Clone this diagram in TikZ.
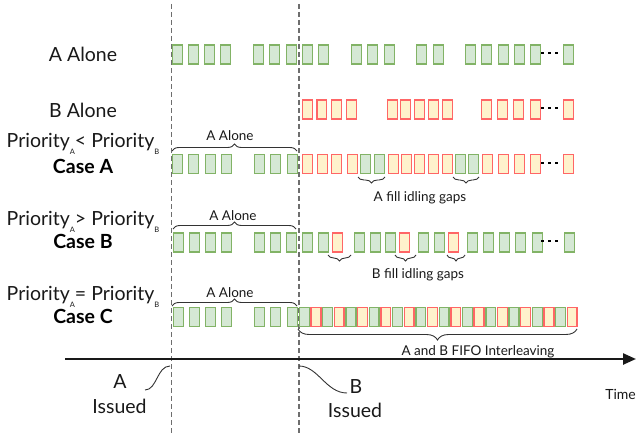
\documentclass[tikz,border=0pt]{standalone}
\usepackage{fontspec}
\setmainfont{Lato}
\usetikzlibrary{decorations.pathreplacing,arrows.meta}
\definecolor{gfill}{HTML}{D5E8D4}
\definecolor{gline}{HTML}{82B366}
\definecolor{rfill}{HTML}{FFF2CC}
\definecolor{rline}{HTML}{FF6666}
\definecolor{dgray}{HTML}{333333}
\definecolor{dashgray}{HTML}{6E6E6E}
\newcommand\mysub[1]{\raisebox{-7pt}{\fontsize{7.5}{8}\selectfont #1}}
\begin{document}
\begin{tikzpicture}[x=1pt,y=-1pt,
  gbox/.style={draw=gline, fill=gfill, line width=1.4pt, minimum width=9.8pt, minimum height=19.3pt, inner sep=0pt, anchor=west},
  rbox/.style={draw=rline, fill=rfill, line width=1.4pt, minimum width=9.8pt, minimum height=19.3pt, inner sep=0pt, anchor=west},
  big/.style={font=\fontsize{19.5}{23}\selectfont, inner sep=0pt, anchor=base, text=black!90},
  bigb/.style={font=\fontsize{19.5}{23}\selectfont\bfseries, inner sep=0pt, anchor=base},
  small/.style={font=\fontsize{13.5}{16}\selectfont, inner sep=0pt, anchor=base, text=black!90},
  brc/.style={draw=dgray, line width=0.9pt, decorate},
  vdash/.style={draw=dashgray, line width=1.3pt, dash pattern=on 5pt off 3pt},
  curve/.style={draw=dgray, line width=0.9pt},
  dotmark/.style={fill=black}
]
\useasboundingbox (0,0) rectangle (637,436);

% dashed time markers
\coordinate (d1t) at (171.5,4);
\coordinate (d1b) at (171.5,436);
\coordinate (d2t) at (299,4);
\coordinate (d2b) at (299,436);
\draw[vdash] (d1t) -- (d1b);
\draw[vdash] (d2t) -- (d2b);

% left labels
\node[big] (lA) at (83,62) {A Alone};
\node[big] (lB) at (83,117) {B Alone};
\node[big] (pA) at (83,147) {Priority\mysub{A}< Priority\mysub{B}};
\node[bigb] (cA) at (83,173) {Case A};
\node[big] (pB) at (83,225) {Priority\mysub{A}> Priority\mysub{B}};
\node[bigb] (cB) at (83,248) {Case B};
\node[big] (pC) at (83,300) {Priority\mysub{A}= Priority\mysub{B}};
\node[bigb] (cC) at (83,323) {Case C};

% Row: A alone
\foreach \x [count=\i] in {171,187,203,219,252,268,285,301,317,350,366,383,415,432,464,480,497,513,529,562}
  \node[gbox] (ra\i) at (\x+0.7,54.5) {};
% Row: B alone
\foreach \x [count=\i] in {301,315.5,330,345,386,399,413,427,441,480,496,512,529,562}
  \node[rbox] (rb\i) at (\x+0.7,109.5) {};
% Case A
\foreach \x [count=\i] in {171,187,204,220,253,269,286,359,373,454,467}
  \node[gbox] (cag\i) at (\x+0.7,164) {};
\foreach \x [count=\i] in {301,316,330,346,387,400,413,427,441,481,497,513,529,562}
  \node[rbox] (car\i) at (\x+0.7,164) {};
% Case B
\foreach \x [count=\i] in {172,188,204,220,253,269,285,301,317,353,369,384,417,433,466,482,498,514,531,563}
  \node[gbox] (cbg\i) at (\x+0.7,242.5) {};
\foreach \x [count=\i] in {331,398,447}
  \node[rbox] (cbr\i) at (\x+0.7,242.5) {};
% Case C
\foreach \x [count=\i] in {172,188,204,220,253,269,286}
  \node[gbox] (ccg\i) at (\x+0.7,317) {};
\foreach \i in {0,2,...,22}
  \node[gbox] (cci\i) at (298.7+11.65*\i,317) {};
\foreach \i in {1,3,...,23}
  \node[rbox] (cci\i) at (298.7+11.65*\i,317) {};

% ellipsis dots
\foreach \y in {53,108,163,241}
  \foreach \x in {542.7,549.7,556.7}
    \fill[dotmark] (\x-1.4,\y-1.4) rectangle (\x+1.4,\y+1.4);

% A Alone braces
\draw[brc, decoration={brace, amplitude=7pt}] (172,151) -- (297,151);
\node[small] (aa1) at (230,140) {A Alone};
\draw[brc, decoration={brace, amplitude=7pt}] (173,229) -- (296,229);
\node[small] (aa2) at (233,220) {A Alone};
\draw[brc, decoration={brace, amplitude=7pt}] (172,306) -- (297,306);
\node[small] (aa3) at (230,297) {A Alone};

% Case A gap braces
\draw[brc, decoration={brace, amplitude=6pt}] (385,177) -- (358,177);
\draw[brc, decoration={brace, amplitude=6pt}] (479,177) -- (453,177);
\node[small] (fa) at (420,201) {A fill idling gaps};

% Case B gap braces
\draw[brc, decoration={brace, amplitude=6pt}] (351,255) -- (328,255);
\draw[brc, decoration={brace, amplitude=6pt}] (416,255) -- (395,255);
\draw[brc, decoration={brace, amplitude=6pt}] (465,255) -- (447,255);
\node[small] (fb) at (418,278) {B fill idling gaps};

% Case C brace
\draw[brc, decoration={brace, amplitude=11pt}] (577,329) -- (298,329);
\node[small] (fc) at (478,355) {A and B FIFO Interleaving};

% time axis
\coordinate (t0) at (65,359);
\coordinate (t1) at (636,359);
\draw[line width=2.4pt, draw=black!90, -{Triangle[length=13pt,width=11pt]}] (t0) -- (t1);
\node[small, anchor=base east, font=\fontsize{14}{16}\selectfont] (time) at (636,399) {Time};

% issued labels
\node[big] (iA) at (120,388) {A};
\node[big] (iAs) at (119.5,413) {Issued};
\node[big] (iB) at (356,393) {B};
\node[big] (iBs) at (355,417) {Issued};
\coordinate (ca0) at (145,390);
\coordinate (ca1) at (170,366);
\coordinate (cb0) at (299,366);
\coordinate (cb1) at (347,393);
\draw[curve] (ca0) .. controls (157,390) and (157,366) .. (ca1);
\draw[curve] (cb0) .. controls (318,366) and (326,393) .. (cb1);
\end{tikzpicture}
\end{document}
